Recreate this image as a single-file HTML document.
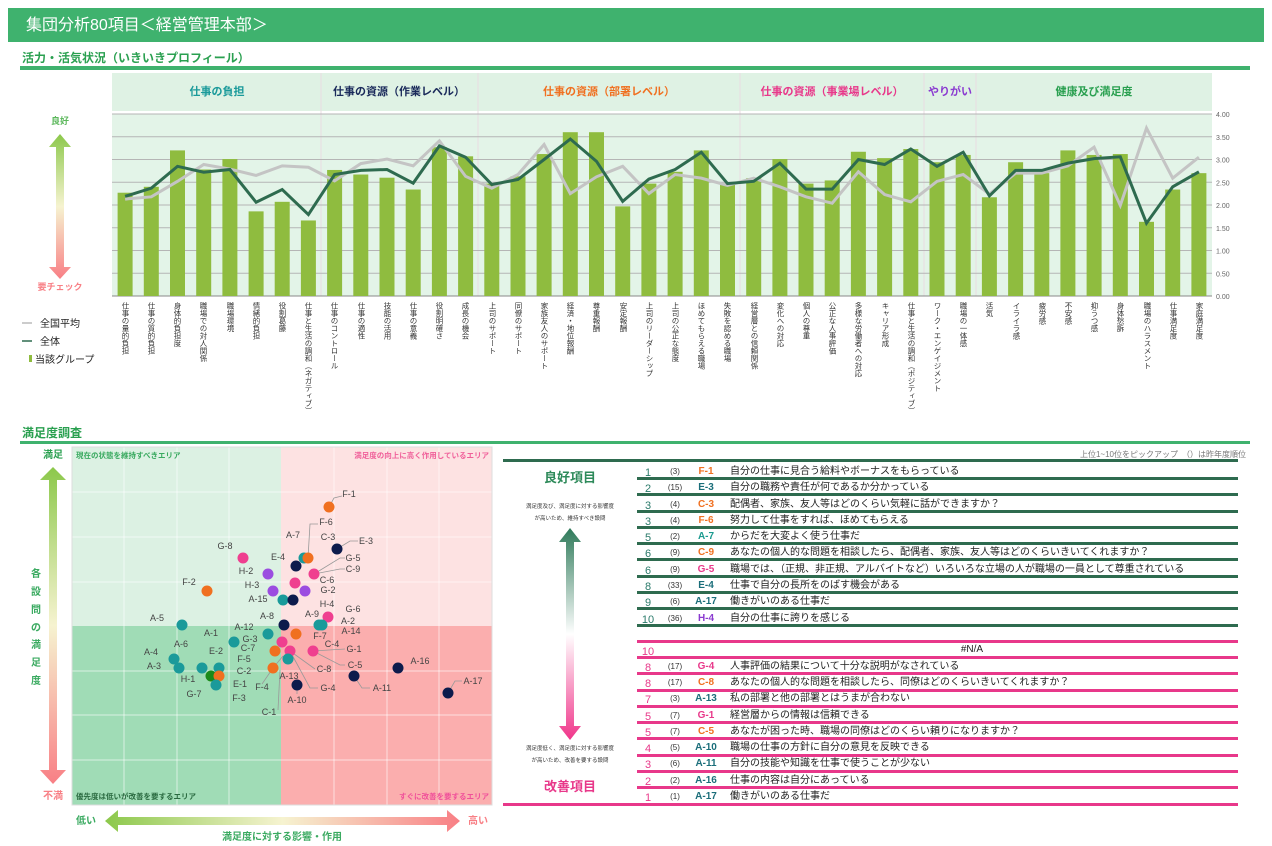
<!DOCTYPE html>
<html><head><meta charset="utf-8"><style>
body{margin:0;width:1272px;height:846px;background:#fff;font-family:"Liberation Sans","Noto Sans CJK JP",sans-serif;position:relative;overflow:hidden}
.v{position:absolute;top:302px;writing-mode:vertical-rl;font-size:7.5px;color:#333;line-height:8px;width:8px}
svg text{font-family:"Liberation Sans","Noto Sans CJK JP",sans-serif}
</style></head><body>
<svg width="1272" height="846" style="position:absolute;left:0;top:0">
<defs>
<linearGradient id="ga" x1="0" y1="0" x2="0" y2="1"><stop offset="0" stop-color="#8cc84b"/><stop offset="0.5" stop-color="#f6f3d0"/><stop offset="1" stop-color="#f87f85"/></linearGradient>
<linearGradient id="gh" x1="0" y1="0" x2="1" y2="0"><stop offset="0" stop-color="#8cc84b"/><stop offset="0.5" stop-color="#f6f3d0"/><stop offset="1" stop-color="#f87f85"/></linearGradient>
<linearGradient id="gt" x1="0" y1="0" x2="0" y2="1"><stop offset="0" stop-color="#2f7a5a"/><stop offset="0.5" stop-color="#ffffff"/><stop offset="1" stop-color="#f0358a"/></linearGradient>
</defs>
<!-- title -->
<rect x="8" y="8" width="1256" height="34" fill="#3fb26e"/>
<text x="26" y="30" font-size="16" fill="#fff">集団分析80項目＜経営管理本部＞</text>
<text x="22" y="62" font-size="12" font-weight="bold" fill="#2aa050">活力・活気状況（いきいきプロフィール）</text>
<rect x="20" y="66" width="1230" height="4" fill="#3fb26e"/>
<!-- top chart band -->
<rect x="112" y="73" width="1100" height="38" fill="#dff2e4"/>
<rect x="112" y="114" width="1100" height="182" fill="#e3f4e8"/>
<g stroke="#e8dce2" stroke-width="1"><line x1="321" y1="73" x2="321" y2="296"/><line x1="478" y1="73" x2="478" y2="296"/><line x1="740" y1="73" x2="740" y2="296"/><line x1="924" y1="73" x2="924" y2="296"/><line x1="976" y1="73" x2="976" y2="296"/></g>
<g font-size="11" font-weight="bold" text-anchor="middle">
<text x="217" y="95" fill="#1a9a9a">仕事の負担</text>
<text x="399" y="95" fill="#1a2a5a">仕事の資源（作業レベル）</text>
<text x="609" y="95" fill="#f07020">仕事の資源（部署レベル）</text>
<text x="832" y="95" fill="#e8388a">仕事の資源（事業場レベル）</text>
<text x="950" y="95" fill="#8a3ad0">やりがい</text>
<text x="1094" y="95" fill="#2aa050">健康及び満足度</text>
</g>
<g stroke="#b5b5b5" stroke-width="1">
<line x1="112" y1="114" x2="1212" y2="114"/><line x1="112" y1="136.75" x2="1212" y2="136.75"/><line x1="112" y1="159.5" x2="1212" y2="159.5"/><line x1="112" y1="182.25" x2="1212" y2="182.25"/><line x1="112" y1="205" x2="1212" y2="205"/><line x1="112" y1="227.75" x2="1212" y2="227.75"/><line x1="112" y1="250.5" x2="1212" y2="250.5"/><line x1="112" y1="273.25" x2="1212" y2="273.25"/><line x1="112" y1="296" x2="1212" y2="296" stroke="#888"/>
</g>
<g font-size="7" fill="#666">
<text x="1216" y="117">4.00</text><text x="1216" y="139.75">3.50</text><text x="1216" y="162.5">3.00</text><text x="1216" y="185.25">2.50</text><text x="1216" y="208">2.00</text><text x="1216" y="230.75">1.50</text><text x="1216" y="253.5">1.00</text><text x="1216" y="276.25">0.50</text><text x="1216" y="299">0.00</text>
</g>
<g transform="translate(0,296) scale(1,-45.5)" fill="#8fbc3f">
<rect x="117.6" y="0" width="15" height="2.27"/><rect x="143.8" y="0" width="15" height="2.40"/><rect x="170.0" y="0" width="15" height="3.20"/><rect x="196.2" y="0" width="15" height="2.78"/><rect x="222.4" y="0" width="15" height="3.01"/><rect x="248.6" y="0" width="15" height="1.86"/><rect x="274.7" y="0" width="15" height="2.07"/><rect x="300.9" y="0" width="15" height="1.66"/><rect x="327.1" y="0" width="15" height="2.77"/><rect x="353.3" y="0" width="15" height="2.67"/><rect x="379.5" y="0" width="15" height="2.60"/><rect x="405.7" y="0" width="15" height="2.34"/><rect x="431.9" y="0" width="15" height="3.27"/><rect x="458.1" y="0" width="15" height="3.07"/><rect x="484.3" y="0" width="15" height="2.47"/><rect x="510.5" y="0" width="15" height="2.63"/><rect x="536.6" y="0" width="15" height="3.12"/><rect x="562.8" y="0" width="15" height="3.60"/><rect x="589.0" y="0" width="15" height="3.60"/><rect x="615.2" y="0" width="15" height="1.97"/><rect x="641.4" y="0" width="15" height="2.47"/><rect x="667.6" y="0" width="15" height="2.73"/><rect x="693.8" y="0" width="15" height="3.20"/><rect x="720.0" y="0" width="15" height="2.47"/><rect x="746.2" y="0" width="15" height="2.59"/><rect x="772.4" y="0" width="15" height="3.01"/><rect x="798.5" y="0" width="15" height="2.47"/><rect x="824.7" y="0" width="15" height="2.54"/><rect x="850.9" y="0" width="15" height="3.17"/><rect x="877.1" y="0" width="15" height="3.03"/><rect x="903.3" y="0" width="15" height="3.23"/><rect x="929.5" y="0" width="15" height="2.94"/><rect x="955.7" y="0" width="15" height="3.10"/><rect x="981.9" y="0" width="15" height="2.17"/><rect x="1008.1" y="0" width="15" height="2.94"/><rect x="1034.3" y="0" width="15" height="2.70"/><rect x="1060.4" y="0" width="15" height="3.20"/><rect x="1086.6" y="0" width="15" height="3.10"/><rect x="1112.8" y="0" width="15" height="3.12"/><rect x="1139.0" y="0" width="15" height="1.63"/><rect x="1165.2" y="0" width="15" height="2.34"/><rect x="1191.4" y="0" width="15" height="2.70"/>
<polyline fill="none" stroke="#c4c4c4" stroke-width="3" vector-effect="non-scaling-stroke" points="125.1,2.13 151.3,2.18 177.5,2.52 203.7,2.89 229.9,2.79 256.1,2.65 282.2,2.86 308.4,2.83 334.6,2.53 360.8,2.91 387.0,3.01 413.2,2.86 439.4,3.41 465.6,2.63 491.8,2.37 518.0,2.67 544.1,3.33 570.3,2.25 596.5,2.62 622.7,2.85 648.9,2.25 675.1,2.67 701.3,2.59 727.5,2.43 753.7,2.59 779.9,2.40 806.0,2.18 832.2,2.04 858.4,2.73 884.6,2.23 910.8,2.07 937.0,2.52 963.2,2.67 989.4,2.24 1015.6,2.70 1041.8,2.70 1067.9,2.86 1094.1,3.27 1120.3,1.99 1146.5,3.69 1172.7,2.59 1198.9,3.05"/>
<polyline fill="none" stroke="#2e6b4f" stroke-width="3" vector-effect="non-scaling-stroke" points="125.1,2.19 151.3,2.37 177.5,2.85 203.7,2.72 229.9,2.78 256.1,2.06 282.2,2.34 308.4,1.79 334.6,2.67 360.8,2.76 387.0,2.78 413.2,2.48 439.4,3.30 465.6,3.05 491.8,2.45 518.0,2.56 544.1,3.00 570.3,3.45 596.5,2.96 622.7,2.08 648.9,2.57 675.1,2.78 701.3,3.16 727.5,2.47 753.7,2.52 779.9,2.92 806.0,2.35 832.2,2.35 858.4,3.00 884.6,2.89 910.8,3.23 937.0,2.85 963.2,3.16 989.4,2.20 1015.6,2.76 1041.8,2.76 1067.9,2.92 1094.1,3.02 1120.3,3.06 1146.5,1.60 1172.7,2.40 1198.9,2.73"/>
</g>
<!-- left legend top -->
<text x="60" y="124" font-size="9" font-weight="bold" fill="#5cb85c" text-anchor="middle">良好</text>
<polygon points="60,134 71,147 64,147 64,267 71,267 60,279 49,267 56,267 56,147 49,147" fill="url(#ga)"/>
<text x="60" y="290" font-size="9" font-weight="bold" fill="#f87f85" text-anchor="middle">要チェック</text>
<line x1="22" y1="323" x2="32" y2="323" stroke="#bbb" stroke-width="1.5"/><text x="40" y="327" font-size="10" fill="#222">全国平均</text>
<line x1="22" y1="341" x2="32" y2="341" stroke="#2e6b4f" stroke-width="1.5"/><text x="40" y="345" font-size="10" fill="#222">全体</text>
<rect x="29" y="355" width="3" height="7" fill="#8fbc3f"/><text x="35" y="363" font-size="10" fill="#222">当該グループ</text>

<!-- section 2 -->
<text x="22" y="437" font-size="12" font-weight="bold" fill="#2aa050">満足度調査</text>
<rect x="20" y="441" width="1230" height="3" fill="#3fb26e"/>
<!-- scatter -->
<rect x="72" y="447" width="209" height="179" fill="#dcf1e3"/>
<rect x="281" y="447" width="211" height="179" fill="#fde2e2"/>
<rect x="72" y="626" width="209" height="179" fill="#a0dcb6"/>
<rect x="281" y="626" width="211" height="179" fill="#fbaeae"/>
<g stroke="#ffffff" stroke-opacity="0.6" stroke-width="1">
<line x1="124" y1="447" x2="124" y2="805"/><line x1="177" y1="447" x2="177" y2="805"/><line x1="229" y1="447" x2="229" y2="805"/><line x1="334" y1="447" x2="334" y2="805"/><line x1="387" y1="447" x2="387" y2="805"/><line x1="439" y1="447" x2="439" y2="805"/>
<line x1="72" y1="492" x2="492" y2="492"/><line x1="72" y1="537" x2="492" y2="537"/><line x1="72" y1="582" x2="492" y2="582"/><line x1="72" y1="671" x2="492" y2="671"/><line x1="72" y1="715" x2="492" y2="715"/><line x1="72" y1="760" x2="492" y2="760"/>
</g>
<rect x="72" y="447" width="420" height="358" fill="none" stroke="#ddd"/>
<g font-size="7.5" font-weight="bold">
<text x="76" y="458" fill="#3aaa60">現在の状態を維持すべきエリア</text>
<text x="489" y="458" fill="#f0609a" text-anchor="end">満足度の向上に高く作用しているエリア</text>
<text x="76" y="799" fill="#2a6a40">優先度は低いが改善を要するエリア</text>
<text x="489" y="799" fill="#f0509a" text-anchor="end">すぐに改善を要するエリア</text>
</g>
<text x="53" y="458" font-size="10" font-weight="bold" fill="#2aa050" text-anchor="middle">満足</text>
<polygon points="53,467 66,480 57,480 57,770 66,770 53,784 40,770 49,770 49,480 40,480" fill="url(#ga)"/>
<g font-size="10" font-weight="bold" fill="#3aaa60" text-anchor="middle">
<text x="36" y="577">各</text><text x="36" y="595">設</text><text x="36" y="613">問</text><text x="36" y="631">の</text><text x="36" y="648">満</text><text x="36" y="666">足</text><text x="36" y="684">度</text>
</g>
<text x="53" y="799" font-size="10" font-weight="bold" fill="#f87f85" text-anchor="middle">不満</text>
<text x="86" y="824" font-size="10" font-weight="bold" fill="#3aaa60" text-anchor="middle">低い</text>
<polygon points="105,821 118,810 118,817 447,817 447,810 460,821 447,832 447,825 118,825 118,832" fill="url(#gh)"/>
<text x="478" y="824" font-size="10" font-weight="bold" fill="#f87f85" text-anchor="middle">高い</text>
<text x="282" y="840" font-size="10" font-weight="bold" fill="#3aaa60" text-anchor="middle">満足度に対する影響・作用</text>
<!-- leader lines (few) -->
<g stroke="#999" stroke-width="0.8" fill="none">
<polyline points="329,507 334,498 342,496"/><polyline points="308,558 310,524 318,524"/><polyline points="337,549 350,541 358,541"/><polyline points="314,574 340,558 345,558"/><polyline points="314,574 340,569 345,569"/><polyline points="273,668 283,656"/><polyline points="273,668 262,684"/><polyline points="280,670 278,710"/><polyline points="297,685 297,694"/><polyline points="354,676 362,688 370,688"/><polyline points="448,693 455,681 462,681"/><polyline points="290,651 310,688 318,688"/><polyline points="290,651 315,669"/><polyline points="313,651 345,649"/><polyline points="313,651 340,665 345,665"/>
</g>
<!-- dots -->
<g>
<circle cx="329" cy="507" r="5.5" fill="#f07020"/>
<circle cx="304" cy="558" r="5.5" fill="#1a9a9a"/><circle cx="308" cy="558" r="5.5" fill="#f07020"/>
<circle cx="337" cy="549" r="5.5" fill="#0d1b4c"/>
<circle cx="243" cy="558" r="5.5" fill="#ef3f8f"/>
<circle cx="296" cy="566" r="5.5" fill="#0d1b4c"/>
<circle cx="268" cy="574" r="5.5" fill="#9b4de0"/>
<circle cx="314" cy="574" r="5.5" fill="#ef3f8f"/>
<circle cx="295" cy="583" r="5.5" fill="#ef3f8f"/>
<circle cx="207" cy="591" r="5.5" fill="#f07020"/>
<circle cx="273" cy="591" r="5.5" fill="#9b4de0"/>
<circle cx="305" cy="591" r="5.5" fill="#9b4de0"/>
<circle cx="283" cy="600" r="5.5" fill="#1a9a9a"/>
<circle cx="293" cy="600" r="5.5" fill="#0d1b4c"/>
<circle cx="328" cy="617" r="5.5" fill="#ef3f8f"/>
<circle cx="182" cy="625" r="5.5" fill="#1a9a9a"/>
<circle cx="284" cy="625" r="5.5" fill="#0d1b4c"/>
<circle cx="319" cy="625" r="5.5" fill="#1a9a9a"/><circle cx="322" cy="625" r="5.5" fill="#1a9a9a"/>
<circle cx="268" cy="634" r="5.5" fill="#1a9a9a"/>
<circle cx="296" cy="634" r="5.5" fill="#f07020"/>
<circle cx="234" cy="642" r="5.5" fill="#1a9a9a"/>
<circle cx="282" cy="642" r="5.5" fill="#ef3f8f"/>
<circle cx="275" cy="651" r="5.5" fill="#f07020"/>
<circle cx="313" cy="651" r="5.5" fill="#ef3f8f"/>
<circle cx="290" cy="651" r="5.5" fill="#ef3f8f"/>
<circle cx="174" cy="659" r="5.5" fill="#1a9a9a"/>
<circle cx="288" cy="659" r="5.5" fill="#1a9a9a"/>
<circle cx="202" cy="668" r="5.5" fill="#1a9a9a"/>
<circle cx="219" cy="668" r="5.5" fill="#1a9a9a"/>
<circle cx="179" cy="668" r="5.5" fill="#1a9a9a"/>
<circle cx="273" cy="668" r="5.5" fill="#f07020"/>
<circle cx="211" cy="676" r="5.5" fill="#1a8a1a"/>
<circle cx="219" cy="676" r="5.5" fill="#f07020"/>
<circle cx="216" cy="685" r="5.5" fill="#1a9a9a"/>
<circle cx="398" cy="668" r="5.5" fill="#0d1b4c"/>
<circle cx="354" cy="676" r="5.5" fill="#0d1b4c"/>
<circle cx="297" cy="685" r="5.5" fill="#0d1b4c"/>
<circle cx="448" cy="693" r="5.5" fill="#0d1b4c"/>
</g>
<g font-size="9" fill="#444" text-anchor="middle">
<text x="349" y="497">F-1</text><text x="326" y="525">F-6</text><text x="293" y="538">A-7</text><text x="328" y="540">C-3</text><text x="366" y="544">E-3</text><text x="225" y="549">G-8</text><text x="353" y="561">G-5</text><text x="278" y="560">E-4</text><text x="353" y="572">C-9</text><text x="246" y="574">H-2</text><text x="327" y="583">C-6</text><text x="189" y="585">F-2</text><text x="328" y="593">G-2</text><text x="252" y="588">H-3</text><text x="258" y="602">A-15</text><text x="327" y="607">H-4</text><text x="312" y="617">A-9</text><text x="353" y="612">G-6</text><text x="267" y="619">A-8</text><text x="157" y="621">A-5</text><text x="348" y="624">A-2</text><text x="244" y="630">A-12</text><text x="351" y="634">A-14</text><text x="211" y="636">A-1</text><text x="320" y="639">F-7</text><text x="250" y="642">G-3</text><text x="332" y="647">C-4</text><text x="181" y="647">A-6</text><text x="248" y="651">C-7</text><text x="216" y="654">E-2</text><text x="354" y="652">G-1</text><text x="151" y="655">A-4</text><text x="244" y="662">F-5</text><text x="420" y="664">A-16</text><text x="355" y="668">C-5</text><text x="154" y="669">A-3</text><text x="244" y="674">C-2</text><text x="324" y="672">C-8</text><text x="188" y="682">H-1</text><text x="289" y="679">A-13</text><text x="240" y="687">E-1</text><text x="262" y="690">F-4</text><text x="473" y="684">A-17</text><text x="328" y="691">G-4</text><text x="382" y="691">A-11</text><text x="194" y="697">G-7</text><text x="239" y="701">F-3</text><text x="297" y="703">A-10</text><text x="269" y="715">C-1</text>
</g>

<!-- table -->
<text x="1246" y="457" font-size="8" fill="#777" text-anchor="end">上位1~10位をピックアップ　（）は昨年度順位</text>
<rect x="503" y="459" width="735" height="3" fill="#2e6b4f"/>
<text x="570" y="482" font-size="13" font-weight="bold" fill="#2e8a5a" text-anchor="middle">良好項目</text>
<text x="570" y="508" font-size="5.5" fill="#333" text-anchor="middle">満足度及び、満足度に対する影響度</text>
<text x="570" y="520" font-size="5.5" fill="#333" text-anchor="middle">が高いため、維持すべき設問</text>
<polygon points="570,528 581,542 574,542 574,726 581,726 570,740 559,726 566,726 566,542 559,542" fill="url(#gt)"/>
<text x="570" y="750" font-size="5.5" fill="#333" text-anchor="middle">満足度低く、満足度に対する影響度</text>
<text x="570" y="762" font-size="5.5" fill="#333" text-anchor="middle">が高いため、改善を要する設問</text>
<text x="570" y="791" font-size="13" font-weight="bold" fill="#e8388a" text-anchor="middle">改善項目</text>
<g fill="#2e6b4f">
<rect x="637" y="477" width="601" height="3"/><rect x="637" y="493" width="601" height="3"/><rect x="637" y="510" width="601" height="3"/><rect x="637" y="526" width="601" height="3"/><rect x="637" y="542" width="601" height="3"/><rect x="637" y="558" width="601" height="3"/><rect x="637" y="575" width="601" height="3"/><rect x="637" y="591" width="601" height="3"/><rect x="637" y="607" width="601" height="3"/><rect x="637" y="624" width="601" height="3"/>
</g>
<g fill="#e8388a">
<rect x="637" y="640" width="601" height="3"/><rect x="637" y="656" width="601" height="3"/><rect x="637" y="672" width="601" height="3"/><rect x="637" y="689" width="601" height="3"/><rect x="637" y="705" width="601" height="3"/><rect x="637" y="721" width="601" height="3"/><rect x="637" y="737" width="601" height="3"/><rect x="637" y="754" width="601" height="3"/><rect x="637" y="770" width="601" height="3"/><rect x="637" y="786" width="601" height="3"/><rect x="503" y="803" width="735" height="3"/>
</g>
<g font-size="10">
<g fill="#2a7a6a" text-anchor="middle" font-size="11"><text x="648" y="476">1</text><text x="648" y="492">2</text><text x="648" y="509">3</text><text x="648" y="525">3</text><text x="648" y="541">5</text><text x="648" y="557">6</text><text x="648" y="574">6</text><text x="648" y="590">8</text><text x="648" y="606">9</text><text x="648" y="623">10</text></g>
<g fill="#333" text-anchor="middle" font-size="8"><text x="675" y="474">(3)</text><text x="675" y="490">(15)</text><text x="675" y="507">(4)</text><text x="675" y="523">(4)</text><text x="675" y="539">(2)</text><text x="675" y="555">(9)</text><text x="675" y="572">(9)</text><text x="675" y="588">(33)</text><text x="675" y="604">(6)</text><text x="675" y="621">(36)</text></g>
<g text-anchor="middle" font-weight="bold"><text x="706" y="474" fill="#f07020">F-1</text><text x="706" y="490" fill="#1b6e7a">E-3</text><text x="706" y="507" fill="#f07020">C-3</text><text x="706" y="523" fill="#f07020">F-6</text><text x="706" y="539" fill="#1a9a8f">A-7</text><text x="706" y="555" fill="#f07020">C-9</text><text x="706" y="572" fill="#e8388a">G-5</text><text x="706" y="588" fill="#1b6e7a">E-4</text><text x="706" y="604" fill="#1b6e7a">A-17</text><text x="706" y="621" fill="#8a3ad0">H-4</text></g>
<g fill="#222"><text x="730" y="474">自分の仕事に見合う給料やボーナスをもらっている</text><text x="730" y="490">自分の職務や責任が何であるか分かっている</text><text x="730" y="507">配偶者、家族、友人等はどのくらい気軽に話ができますか？</text><text x="730" y="523">努力して仕事をすれば、ほめてもらえる</text><text x="730" y="539">からだを大変よく使う仕事だ</text><text x="730" y="555">あなたの個人的な問題を相談したら、配偶者、家族、友人等はどのくらいきいてくれますか？</text><text x="730" y="572">職場では、（正規、非正規、アルバイトなど）いろいろな立場の人が職場の一員として尊重されている</text><text x="730" y="588">仕事で自分の長所をのばす機会がある</text><text x="730" y="604">働きがいのある仕事だ</text><text x="730" y="621">自分の仕事に誇りを感じる</text></g>
<g fill="#e8388a" text-anchor="middle" font-size="11"><text x="648" y="655">10</text><text x="648" y="671">8</text><text x="648" y="687">8</text><text x="648" y="703">7</text><text x="648" y="720">5</text><text x="648" y="736">5</text><text x="648" y="752">4</text><text x="648" y="768">3</text><text x="648" y="785">2</text><text x="648" y="801">1</text></g>
<text x="972" y="652" fill="#222" text-anchor="middle">#N/A</text>
<g fill="#333" text-anchor="middle" font-size="8"><text x="675" y="669">(17)</text><text x="675" y="685">(17)</text><text x="675" y="701">(3)</text><text x="675" y="718">(7)</text><text x="675" y="734">(7)</text><text x="675" y="750">(5)</text><text x="675" y="766">(6)</text><text x="675" y="783">(2)</text><text x="675" y="799">(1)</text></g>
<g text-anchor="middle" font-weight="bold"><text x="706" y="669" fill="#e8388a">G-4</text><text x="706" y="685" fill="#f07020">C-8</text><text x="706" y="701" fill="#1b6e7a">A-13</text><text x="706" y="718" fill="#e8388a">G-1</text><text x="706" y="734" fill="#f07020">C-5</text><text x="706" y="750" fill="#1b6e7a">A-10</text><text x="706" y="766" fill="#1b6e7a">A-11</text><text x="706" y="783" fill="#1b6e7a">A-16</text><text x="706" y="799" fill="#1b6e7a">A-17</text></g>
<g fill="#222"><text x="730" y="669">人事評価の結果について十分な説明がなされている</text><text x="730" y="685">あなたの個人的な問題を相談したら、同僚はどのくらいきいてくれますか？</text><text x="730" y="701">私の部署と他の部署とはうまが合わない</text><text x="730" y="718">経営層からの情報は信頼できる</text><text x="730" y="734">あなたが困った時、職場の同僚はどのくらい頼りになりますか？</text><text x="730" y="750">職場の仕事の方針に自分の意見を反映できる</text><text x="730" y="766">自分の技能や知識を仕事で使うことが少ない</text><text x="730" y="783">仕事の内容は自分にあっている</text><text x="730" y="799">働きがいのある仕事だ</text></g>
</g>
</svg>
<div class="v" style="left:121px">仕事の量的負担</div><div class="v" style="left:147px">仕事の質的負担</div><div class="v" style="left:173px">身体的負担度</div><div class="v" style="left:199px">職場での対人関係</div><div class="v" style="left:226px">職場環境</div><div class="v" style="left:252px">情緒的負担</div><div class="v" style="left:278px">役割葛藤</div><div class="v" style="left:304px">仕事と生活の調和（ネガティブ）</div><div class="v" style="left:330px">仕事のコントロール</div><div class="v" style="left:357px">仕事の適性</div><div class="v" style="left:383px">技能の活用</div><div class="v" style="left:409px">仕事の意義</div><div class="v" style="left:435px">役割明確さ</div><div class="v" style="left:461px">成長の機会</div><div class="v" style="left:488px">上司のサポート</div><div class="v" style="left:514px">同僚のサポート</div><div class="v" style="left:540px">家族友人のサポート</div><div class="v" style="left:566px">経済・地位報酬</div><div class="v" style="left:592px">尊重報酬</div><div class="v" style="left:619px">安定報酬</div><div class="v" style="left:645px">上司のリーダーシップ</div><div class="v" style="left:671px">上司の公正な態度</div><div class="v" style="left:697px">ほめてもらえる職場</div><div class="v" style="left:723px">失敗を認める職場</div><div class="v" style="left:750px">経営層との信頼関係</div><div class="v" style="left:776px">変化への対応</div><div class="v" style="left:802px">個人の尊重</div><div class="v" style="left:828px">公正な人事評価</div><div class="v" style="left:854px">多様な労働者への対応</div><div class="v" style="left:881px">キャリア形成</div><div class="v" style="left:907px">仕事と生活の調和（ポジティブ）</div><div class="v" style="left:933px">ワーク・エンゲイジメント</div><div class="v" style="left:959px">職場の一体感</div><div class="v" style="left:985px">活気</div><div class="v" style="left:1012px">イライラ感</div><div class="v" style="left:1038px">疲労感</div><div class="v" style="left:1064px">不安感</div><div class="v" style="left:1090px">抑うつ感</div><div class="v" style="left:1116px">身体愁訴</div><div class="v" style="left:1143px">職場のハラスメント</div><div class="v" style="left:1169px">仕事満足度</div><div class="v" style="left:1195px">家庭満足度</div>
</body></html>
